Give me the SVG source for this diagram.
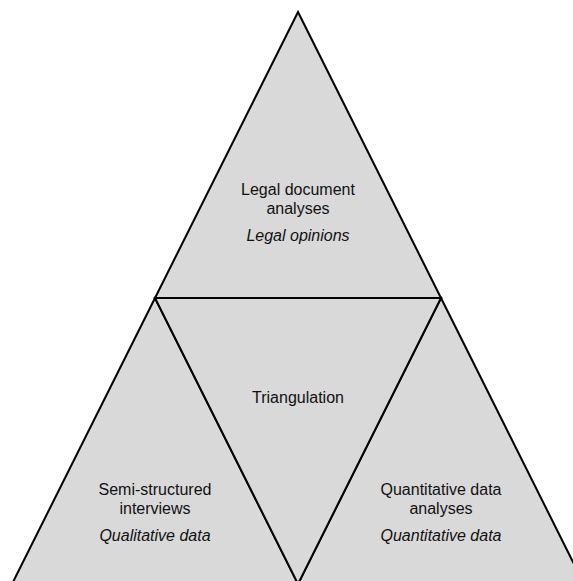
<svg xmlns="http://www.w3.org/2000/svg" width="573" height="581" viewBox="0 0 573 581">
<style>
.tri{fill:#d9d9d9;stroke:#000;stroke-width:2;stroke-linejoin:miter}
text{font-family:"Liberation Sans",Arial,sans-serif;font-size:16px;fill:#111;text-anchor:middle}
.it{font-style:italic}
</style>
<rect width="573" height="581" fill="#fff"/>
<g id="legal">
<polygon class="tri" points="298,12 441,298 155,298"/>
<text x="298" y="195">Legal document</text>
<text x="298" y="214">analyses</text>
<text x="298" y="241" class="it">Legal opinions</text>
</g>
<g id="semi">
<polygon class="tri" points="155,298 298,584 12,584"/>
<text x="155" y="495">Semi-structured</text>
<text x="155" y="514">interviews</text>
<text x="155" y="541" class="it">Qualitative data</text>
</g>
<g id="quant">
<polygon class="tri" points="441,298 584,584 298,584"/>
<text x="441" y="495">Quantitative data</text>
<text x="441" y="514">analyses</text>
<text x="441" y="541" class="it">Quantitative data</text>
</g>
<g id="triangulation">
<polygon class="tri" points="155,298 441,298 298,584"/>
<text x="298" y="403">Triangulation</text>
</g>
<g id="connectors"></g>
</svg>
